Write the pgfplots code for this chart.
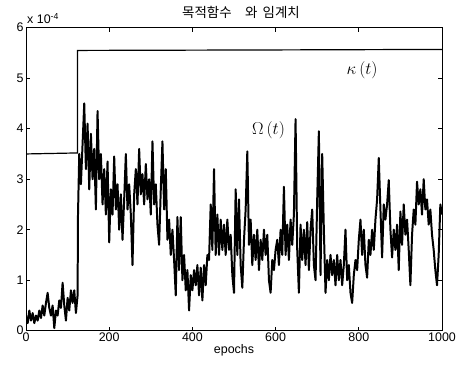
\documentclass[border=0pt]{standalone}
\usepackage{fontspec}
\setmainfont{Liberation Sans}
\newfontfamily\kr{Noto Sans CJK KR}
\newfontfamily\serif{Liberation Serif}
\usepackage{pgfplots}
\pgfplotsset{compat=1.18}
\begin{document}
\begin{tikzpicture}
\useasboundingbox (-26bp,-41.3bp) rectangle (437bp,330.7bp);
\begin{axis}[
  name=ax,
  scale only axis,
  width=416bp, height=303bp,
  xmin=0, xmax=1000, ymin=0, ymax=6,
  xtick={0,200,400,600,800,1000},
  ytick={0,1,2,3,4,5,6},
  tick align=inside,
  major tick length=4bp,
  tick style={black, line width=0.8pt},
  axis line style={line width=1pt},
  /pgf/number format/assume math mode=true,
  /pgf/number format/1000 sep={},
  tick label style={font=\fontsize{12.5}{14}\selectfont},
  xticklabel style={yshift=1bp},
  yticklabel style={xshift=1bp},
  xlabel={\fontsize{12.5}{14}\selectfont epochs},
  xlabel style={yshift=4bp},
  clip mode=individual,
]
% threshold kappa(t)
\addplot[black, line width=1.2pt] coordinates {
(0,3.5) (124,3.52) (124,5.55) (600,5.56) (1000,5.57)
};
% objective Omega(t)
\addplot[black, line width=2pt, line join=round] coordinates {
(0,0.3) (4,0.15) (8,0.4) (12,0.2) (16,0.35) (20,0.15) (24,0.3) (28,0.2)
(32,0.4) (36,0.25) (40,0.5) (44,0.3) (48,0.55) (52,0.75) (56,0.45) (60,0.3)
(64,0.5) (68,0.05) (72,0.4) (76,0.3) (80,0.6) (84,0.45) (88,0.95) (92,0.5)
(96,0.2) (100,0.65) (104,0.4) (108,0.8) (112,0.55) (116,0.8) (120,0.35) (124,0.7)
(125,2.3) (128,3.5) (132,2.9) (136,3.7) (140,4.5) (144,3.2) (148,4.1) (152,2.8)
(156,3.9) (160,3.0) (164,3.6) (168,2.4) (172,4.35) (176,3.0) (180,3.5) (184,2.5)
(188,3.2) (192,2.3) (196,3.35) (200,1.75) (204,2.8) (208,2.3) (212,3.45) (216,2.4)
(220,2.9) (224,2.0) (228,2.7) (232,1.8) (236,2.6) (240,3.5) (244,2.4) (248,2.9)
(252,2.3) (256,1.3) (260,2.7) (264,3.2) (268,2.5) (272,3.6) (276,2.7) (280,3.1)
(284,2.5) (288,3.3) (292,2.6) (296,3.0) (300,2.3) (304,3.75) (308,2.5) (312,2.9)
(316,2.1) (320,1.7) (324,2.8) (328,3.75) (332,2.4) (336,3.2) (340,1.8) (344,2.2)
(348,1.5) (352,2.0) (356,1.4) (360,0.7) (364,2.25) (368,1.2) (372,2.25) (376,1.0)
(380,1.5) (384,0.8) (388,1.2) (392,0.4) (396,1.1) (400,0.8) (404,1.2) (408,0.9)
(412,1.3) (416,0.7) (420,1.25) (424,0.6) (428,1.3) (432,0.9) (436,1.5) (440,1.4)
(444,2.5) (448,1.6) (452,3.2) (456,1.5) (460,2.3) (464,1.5) (468,2.2) (472,1.6)
(476,2.1) (480,1.5) (484,2.2) (488,1.6) (492,1.9) (496,1.1) (500,0.75) (504,2.8)
(508,1.5) (512,2.6) (516,1.3) (520,0.85) (524,1.8) (528,2.4) (532,3.55) (536,1.7)
(540,2.2) (544,1.3) (548,1.9) (552,1.4) (556,2.0) (560,1.2) (564,1.8) (568,1.4)
(572,2.0) (576,1.5) (580,1.9) (584,1.0) (588,0.75) (592,1.4) (596,1.2) (600,1.6)
(604,1.8) (608,1.3) (612,2.0) (616,1.5) (620,2.85) (624,1.5) (628,2.1) (632,1.4)
(636,2.2) (640,1.7) (644,2.3) (648,4.19) (652,1.6) (656,0.75) (660,2.1) (664,1.4)
(668,2.0) (672,1.3) (676,2.15) (680,1.2) (684,2.0) (688,2.4) (692,1.3) (696,1.0)
(700,2.6) (704,3.95) (708,1.1) (712,3.5) (716,2.0) (720,0.75) (724,1.4) (728,1.0)
(732,1.5) (736,1.1) (740,1.4) (744,0.9) (748,1.5) (752,1.0) (756,1.4) (760,0.9)
(764,1.3) (768,2.0) (772,1.0) (776,1.3) (780,0.75) (784,0.55) (788,1.1) (792,1.4)
(796,1.2) (800,1.8) (804,2.2) (808,1.5) (812,2.0) (816,1.3) (820,1.05) (824,1.8)
(828,1.5) (832,2.0) (836,1.6) (840,2.2) (844,2.6) (848,3.42) (852,2.4) (856,1.45)
(860,2.5) (864,2.2) (868,2.5) (872,2.98) (876,2.0) (880,1.45) (884,2.0) (888,1.6)
(892,2.1) (896,1.2) (900,2.36) (904,1.7) (908,2.5) (912,1.9) (916,2.2) (920,1.6)
(924,0.9) (928,1.9) (932,2.4) (936,2.1) (940,2.95) (944,2.5) (948,2.8) (952,2.3)
(956,3.0) (960,2.4) (964,2.6) (968,2.1) (972,2.4) (976,1.9) (980,1.6) (984,1.2)
(988,0.9) (992,1.5) (996,2.5) (1000,2.3)
};
\node[font=\serif\fontsize{17}{20}\selectfont] at (axis cs:808,5.15) {$\kappa\,(t)$};
\node[font=\serif\fontsize{17}{20}\selectfont] at (axis cs:583,3.97) {$\Omega\,(t)$};
\end{axis}
\node[anchor=south west, inner sep=0pt, font=\fontsize{12.5}{14}\selectfont] at ([xshift=1bp,yshift=4bp]ax.north west) {x 10\textsuperscript{-4}};
\node[anchor=south, inner sep=0pt, font=\kr\fontsize{13.5}{16}\selectfont] at ([xshift=7bp,yshift=9bp]ax.north) {목적함수\quad 와 \,임계치};
\end{tikzpicture}
\end{document}
